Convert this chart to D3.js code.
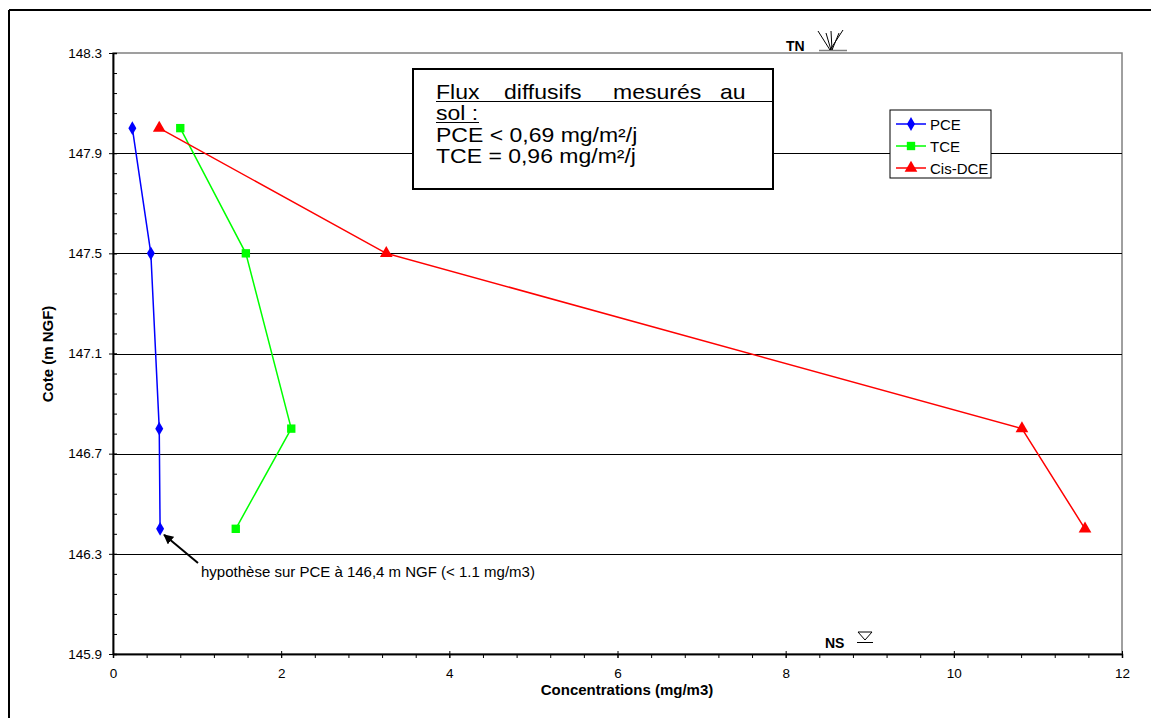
<!DOCTYPE html>
<html>
<head>
<meta charset="utf-8">
<script src="https://cdn.jsdelivr.net/npm/d3@7"></script>
<style>
  body { margin: 0; background: #fff; }
  svg { font-family: "Liberation Sans", Arial, sans-serif; }
</style>
</head>
<body>
<div id="chart"></div>
<script>
var width = 1151;
var height = 718;

// data
var cote = [148.0, 147.5, 146.8, 146.4];
var pce = [0.23, 0.45, 0.55, 0.56];
var tce = [0.80, 1.58, 2.12, 1.46];
var cisDce = [0.55, 3.25, 10.81, 11.56];
var seriesNames = ["PCE", "TCE", "Cis-DCE"];
var seriesColors = ["#0000ff", "#00ff00", "#ff0000"];
var xTicks = [0, 2, 4, 6, 8, 10, 12];
var yTicks = [145.9, 146.3, 146.7, 147.1, 147.5, 147.9, 148.3];

var series = [pce, tce, cisDce].map(function(vals, i) {
    return {
        name: seriesNames[i],
        color: seriesColors[i],
        points: vals.map(function(v, j) { return { x: v, y: cote[j] }; })
    };
});

var xScale = d3.scaleLinear().domain([0, 12]).range([113, 1122]);
var yScale = d3.scaleLinear().domain([145.9, 148.3]).range([654, 53]);

var svg = d3.select("#chart")
    .append("svg")
    .attr("width", width)
    .attr("height", height);

// outer frame (top + left only visible)
svg.append("line").attr("x1", 9).attr("x2", width).attr("y1", 10).attr("y2", 10)
    .attr("stroke", "#000").attr("stroke-width", 2);
svg.append("line").attr("x1", 9).attr("x2", 9).attr("y1", 10).attr("y2", height)
    .attr("stroke", "#000").attr("stroke-width", 2);

// plot area border
svg.append("rect")
    .attr("x", xScale(0)).attr("y", yScale(148.3))
    .attr("width", xScale(12) - xScale(0))
    .attr("height", yScale(145.9) - yScale(148.3))
    .attr("fill", "none").attr("stroke", "#808080").attr("stroke-width", 1.5);

// gridlines
svg.append("g").selectAll("line")
    .data(yTicks.slice(1, -1))
    .enter().append("line")
    .attr("x1", xScale(0)).attr("x2", xScale(12))
    .attr("y1", function(d) { return Math.round(yScale(d)) + 0.5; })
    .attr("y2", function(d) { return Math.round(yScale(d)) + 0.5; })
    .attr("stroke", "#000").attr("stroke-width", 1);

// axes
var minorY = d3.range(0, 31).map(function(i) { return 145.9 + i * 0.08; });
var minorX = d3.range(0, 31).map(function(i) { return i * 0.4; });

var yMinorAxis = d3.axisRight(yScale).tickValues(minorY).tickSize(4).tickFormat("");
var yAxis = d3.axisLeft(yScale).tickValues(yTicks).tickSizeInner(4).tickSizeOuter(0)
    .tickPadding(7).tickFormat(d3.format(".1f"));
var xMinorAxis = d3.axisBottom(xScale).tickValues(minorX).tickSize(4).tickFormat("");
var xAxis = d3.axisBottom(xScale).tickValues(xTicks).tickSizeInner(4).tickSizeOuter(0)
    .tickFormat(d3.format("d"));

function styleAxis(g) {
    g.selectAll("path").attr("stroke", "#000").attr("stroke-width", 1.5);
    g.selectAll("line").attr("stroke", "#000");
    g.selectAll("text").attr("font-size", 13.5).attr("fill", "#000")
        .attr("font-family", "Liberation Sans, Arial, sans-serif");
}

svg.append("g").attr("transform", "translate(" + xScale(0) + ",0)")
    .call(yMinorAxis).call(styleAxis);
svg.append("g").attr("transform", "translate(" + xScale(0) + ",0)")
    .call(yAxis).call(styleAxis)
    .selectAll(".tick line").attr("x2", 4).attr("x1", -4);

svg.append("g").attr("transform", "translate(0," + yScale(145.9) + ")")
    .call(xMinorAxis).call(styleAxis);
var xg = svg.append("g").attr("transform", "translate(0," + yScale(145.9) + ")")
    .call(xAxis).call(styleAxis);
xg.selectAll(".tick line").attr("y1", -3).attr("y2", 4);
xg.selectAll(".tick text").attr("y", 14).attr("dy", "0.71em");

// axis titles
svg.append("text")
    .attr("x", 627)
    .attr("y", 695)
    .attr("text-anchor", "middle")
    .attr("font-size", 15).attr("font-weight", "bold")
    .text("Concentrations (mg/m3)");

svg.append("text")
    .attr("transform", "translate(53,354) rotate(-90)")
    .attr("text-anchor", "middle")
    .attr("font-size", 15).attr("font-weight", "bold")
    .text("Cote (m NGF)");

// lines
var line = d3.line()
    .x(function(d) { return xScale(d.x); })
    .y(function(d) { return yScale(d.y); });

svg.append("g").selectAll("path")
    .data(series)
    .enter().append("path")
    .attr("d", function(d) { return line(d.points); })
    .attr("fill", "none")
    .attr("stroke", function(d) { return d.color; })
    .attr("stroke-width", 1.5);

var symbols = [d3.symbolDiamond, d3.symbolSquare, d3.symbolTriangle];
var symSizes = [55, 70, 70];

series.forEach(function(s, i) {
    svg.append("g").selectAll("path")
        .data(s.points)
        .enter().append("path")
        .attr("transform", function(d) { return "translate(" + xScale(d.x) + "," + yScale(d.y) + ")"; })
        .attr("d", d3.symbol().type(symbols[i]).size(symSizes[i]))
        .attr("fill", s.color);
});

// legend
var legend = svg.append("g").attr("transform", "translate(890,110)");
legend.append("rect")
    .attr("width", 101).attr("height", 68)
    .attr("fill", "#fff").attr("stroke", "#000").attr("stroke-width", 1);
series.forEach(function(s, i) {
    var ly = 14 + i * 22;
    legend.append("line").attr("x1", 6).attr("x2", 36).attr("y1", ly).attr("y2", ly)
        .attr("stroke", s.color).attr("stroke-width", 1.5);
    legend.append("path")
        .attr("transform", "translate(21," + ly + ")")
        .attr("d", d3.symbol().type(symbols[i]).size(symSizes[i]))
        .attr("fill", s.color);
    legend.append("text").attr("x", 40).attr("y", ly + 5.5)
        .attr("font-size", 15).text(s.name);
});

// flux text box (text is drawn a bit wide, like the original)
var box = svg.append("g").attr("transform", "translate(413,69)");
box.append("rect").attr("width", 360).attr("height", 120)
    .attr("fill", "#fff").attr("stroke", "#000").attr("stroke-width", 2);

function boxText(x, y, txt) {
    return box.append("text")
        .attr("transform", "translate(" + x + "," + y + ") scale(1.15,1)")
        .attr("font-size", 20).text(txt);
}
var words = ["Flux", "diffusifs", "mesurés", "au"];
var wordX = [23, 91, 200, 307];
words.forEach(function(w, i) { boxText(wordX[i], 30, w); });
box.append("line").attr("x1", 23).attr("x2", 360).attr("y1", 32.5).attr("y2", 32.5)
    .attr("stroke", "#000").attr("stroke-width", 1);
boxText(23, 51, "sol :");
box.append("line").attr("x1", 23).attr("x2", 66).attr("y1", 53.5).attr("y2", 53.5)
    .attr("stroke", "#000").attr("stroke-width", 1);
boxText(23, 73, "PCE < 0,69 mg/m²/j");
boxText(23, 94, "TCE = 0,96 mg/m²/j");

// TN marker
svg.append("text").attr("x", 786).attr("y", 51)
    .attr("font-size", 14).attr("font-weight", "bold").text("TN");
svg.append("line").attr("x1", 819).attr("x2", 847).attr("y1", 50.5).attr("y2", 50.5)
    .attr("stroke", "#808080").attr("stroke-width", 1.5);
var tnLines = [[818, 31, 830, 50], [826, 33, 831, 50], [831, 31, 832, 50], [843, 30, 830, 50], [839, 33, 832, 50]];
tnLines.forEach(function(l) {
    svg.append("line").attr("x1", l[0]).attr("y1", l[1]).attr("x2", l[2]).attr("y2", l[3])
        .attr("stroke", "#000").attr("stroke-width", 1);
});

// NS marker
svg.append("text").attr("x", 825).attr("y", 648)
    .attr("font-size", 14).attr("font-weight", "bold").text("NS");
svg.append("path").attr("d", "M858,632 L872,632 L865,640 Z")
    .attr("fill", "none").attr("stroke", "#000").attr("stroke-width", 1);
svg.append("line").attr("x1", 857).attr("x2", 873).attr("y1", 642.5).attr("y2", 642.5)
    .attr("stroke", "#000").attr("stroke-width", 1);

// annotation
svg.append("defs").append("marker")
    .attr("id", "arrow").attr("viewBox", "0 0 10 10")
    .attr("refX", 9).attr("refY", 5)
    .attr("markerWidth", 5).attr("markerHeight", 5)
    .attr("orient", "auto")
    .append("path").attr("d", "M0,0 L10,5 L0,10 Z").attr("fill", "#000");
svg.append("line")
    .attr("x1", 198).attr("y1", 563)
    .attr("x2", xScale(0.56) + 4).attr("y2", yScale(146.4) + 6)
    .attr("stroke", "#000").attr("stroke-width", 2)
    .attr("marker-end", "url(#arrow)");
svg.append("text").attr("x", 201).attr("y", 577)
    .attr("font-size", 15).text("hypothèse sur PCE à 146,4 m NGF (< 1.1 mg/m3)");
</script>
</body>
</html>
